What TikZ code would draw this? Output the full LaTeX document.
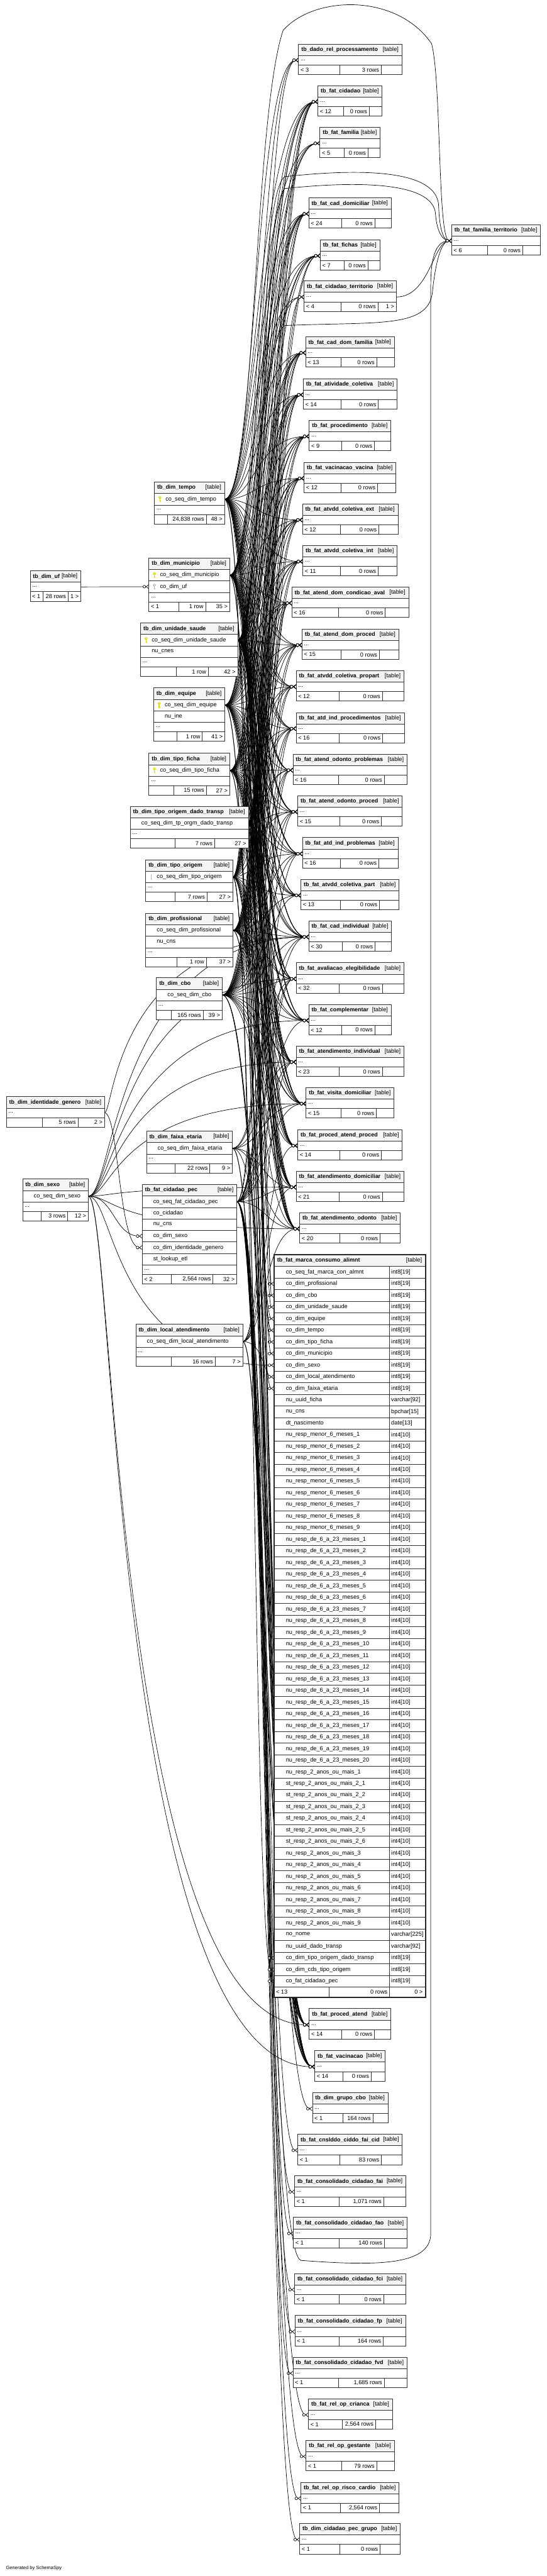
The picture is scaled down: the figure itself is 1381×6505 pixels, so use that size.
\documentclass[tikz,border=0pt]{standalone}
\usepackage{fontspec}
\setmainfont{Liberation Sans}
\usetikzlibrary{arrows.meta,backgrounds}

\definecolor{keyyel}{RGB}{222,222,0}
\definecolor{keygry}{RGB}{190,190,190}
\definecolor{hdrgry}{RGB}{244,244,244}

\newcommand\tf{\fontsize{14.67}{17}\selectfont}
\newcommand\tfb{\fontsize{14.2}{17}\selectfont\bfseries}

% collapsed table: id, title, left, right, top, parents, rows, children
\newcommand\facttab[8]{%
  \pgfmathsetmacro\tabw{#4-#3}%
  \pgfmathsetmacro\cwa{0.4*\tabw}%
  \pgfmathsetmacro\cwb{0.4*\tabw}%
  \pgfmathsetmacro\cwc{\tabw-\cwa-\cwb}%
  \node[ttl, minimum width=\tabw pt] (#1) at (#3,#5) {};
  \node[ttltxt, anchor=west] at ([xshift=7pt]#1.west) {#2};
  \node[lbl, anchor=east] at ([xshift=-8pt]#1.east) {[table]};
  \node[dotrow, minimum width=\tabw pt] (#1-d) at (#1.south west) {};
  \node[lbl, anchor=west] at ([xshift=5pt]#1-d.west) {...};
  \node[footrow, minimum width=\cwa pt] (#1-f1) at (#1-d.south west) {};
  \node[footrow, minimum width=\cwb pt] (#1-f2) at (#1-f1.north east) {};
  \node[footrow, minimum width=\cwc pt] (#1-f3) at (#1-f2.north east) {};
  \node[lbl, anchor=west] at ([xshift=5pt]#1-f1.west) {#6};
  \node[lbl, anchor=east] at ([xshift=-5pt]#1-f2.east) {#7};
  \node[lbl, anchor=east] at ([xshift=-5pt]#1-f3.east) {#8};
}
% dimension table pieces
\newcommand\dimhead[5]{%
  \pgfmathsetmacro\tabw{#4-#3}%
  \node[ttl, minimum width=\tabw pt] (#1) at (#3,#5) {};
  \node[ttltxt, anchor=west] at ([xshift=7pt]#1.west) {#2};
  \node[lbl, anchor=east] at ([xshift=-8pt]#1.east) {[table]};
}
\newcommand\dimcol[3]{%
  \node[colrow, minimum width=\tabw pt] (#1) at (#2.south west) {};
  \node[lbl, anchor=west] at ([xshift=28pt]#1.west) {#3};
}
\newcommand\dimfoot[7]{%
  \pgfmathsetmacro\cwc{\tabw-#6-#7}%
  \node[dotrow, minimum width=\tabw pt] (#1-d) at (#2.south west) {};
  \node[lbl, anchor=west] at ([xshift=5pt]#1-d.west) {...};
  \node[footrow, minimum width=#6pt] (#1-f1) at (#1-d.south west) {};
  \node[footrow, minimum width=#7pt] (#1-f2) at (#1-f1.north east) {};
  \node[footrow, minimum width=\cwc pt] (#1-f3) at (#1-f2.north east) {};
  \node[lbl, anchor=west] at ([xshift=5pt]#1-f1.west) {#3};
  \node[lbl, anchor=east] at ([xshift=-5pt]#1-f2.east) {#4};
  \node[lbl, anchor=east] at ([xshift=-5pt]#1-f3.east) {#5};
}
\newcommand\keyicon[2]{%
  \begin{scope}[shift={([xshift=14pt]#1.west)}]
    \fill[#2] (0,-4) circle (3.6pt);
    \fill[white] (0,-4.5) circle (1.3pt);
    \fill[#2] (-1.1,-1) rectangle (1.1,7);
    \fill[#2] (1.1,3) rectangle (3,4.5);
    \fill[#2] (1.1,5.5) rectangle (2.5,7);
  \end{scope}}
% row of the big table: index, column, type
\newcommand\bigrow[3]{%
  \pgfmathtruncatemacro\ri{#1}%
  \pgfmathsetmacro\ry{3198+(\ri-1)*29.35}%
  \node[colrow, minimum width=292pt, minimum height=29.35pt] (mca-\ri) at (692,\ry) {};
  \node[colrow, minimum width=91pt, minimum height=29.35pt] at (984,\ry) {};
  \node[lbl, anchor=west] at ([xshift=30pt]mca-\ri.west) {#2};
  \node[lbl, anchor=west] at ([xshift=4pt]mca-\ri.east) {#3};
}
% foreign key: source, bus, target
\newcommand\fk[3]{\draw[fk] (#1) .. controls (#1 -| #2) and (#3 -| #2) .. (#3);}

\def\corefacts{cdo,cdf,acl,pro,vva,ace,aci,adc,adp,acp,aip,aop,aod,aib,apt,cin,ael,cmp,ain,vis,pap,ado,aon,pat,vac}

\begin{document}
\catcode`\_=12
\begin{tikzpicture}[x=1pt, y=-1pt,
    cellbox/.style={draw=black!80, line width=0.9pt, fill=white, inner sep=0pt, outer sep=0pt, anchor=north west},
    ttl/.style={cellbox, fill=hdrgry, minimum height=29pt},
    colrow/.style={cellbox, minimum height=29pt},
    dotrow/.style={cellbox, minimum height=24pt},
    footrow/.style={cellbox, minimum height=24pt},
    lbl/.style={inner sep=0pt, font=\tf},
    ttltxt/.style={inner sep=0pt, font=\tfb},
    fk/.style={line width=1.1pt, -{Circle[length=8pt, fill=white] Straight Barb[reversed, length=6pt, width=10pt]}}
]
\useasboundingbox (0,0) rectangle (1381,6505);

% fact tables, right column
\facttab{dad}{tb_dado_rel_processamento}{754}{1015}{111}{< 3}{3 rows}{}
\facttab{cid}{tb_fat_cidadao}{803}{965}{216}{< 12}{0 rows}{}
\facttab{fam}{tb_fat_familia}{808}{960}{321}{< 5}{0 rows}{}
\facttab{cdo}{tb_fat_cad_domiciliar}{780}{988}{499}{< 24}{0 rows}{}
\facttab{fic}{tb_fat_fichas}{809}{959}{605}{< 7}{0 rows}{}
\facttab{ctr}{tb_fat_cidadao_territorio}{768}{1001}{709}{< 4}{0 rows}{1 >}
\facttab{ftr}{tb_fat_familia_territorio}{1141}{1365}{567}{< 6}{0 rows}{}
\facttab{cdf}{tb_fat_cad_dom_familia}{772}{996}{850}{< 13}{0 rows}{}
\facttab{acl}{tb_fat_atividade_coletiva}{766}{1003}{956}{< 14}{0 rows}{}
\facttab{pro}{tb_fat_procedimento}{781}{987}{1061}{< 9}{0 rows}{}
\facttab{vva}{tb_fat_vacinacao_vacina}{768}{1000}{1167}{< 12}{0 rows}{}
\facttab{ace}{tb_fat_atvdd_coletiva_ext}{764}{1005}{1272}{< 12}{0 rows}{}
\facttab{aci}{tb_fat_atvdd_coletiva_int}{765}{1003}{1377}{< 11}{0 rows}{}
\facttab{adc}{tb_fat_atend_dom_condicao_aval}{737}{1032}{1482}{< 16}{0 rows}{}
\facttab{adp}{tb_fat_atend_dom_proced}{763}{1007}{1588}{< 15}{0 rows}{}
\facttab{acp}{tb_fat_atvdd_coletiva_propart}{748}{1020}{1693}{< 12}{0 rows}{}
\facttab{aip}{tb_fat_atd_ind_procedimentos}{748}{1021}{1799}{< 16}{0 rows}{}
\facttab{aop}{tb_fat_atend_odonto_problemas}{740}{1028}{1904}{< 16}{0 rows}{}
\facttab{aod}{tb_fat_atend_odonto_proced}{752}{1016}{2009}{< 15}{0 rows}{}
\facttab{aib}{tb_fat_atd_ind_problemas}{764}{1005}{2115}{< 16}{0 rows}{}
\facttab{apt}{tb_fat_atvdd_coletiva_part}{760}{1008}{2220}{< 13}{0 rows}{}
\facttab{cin}{tb_fat_cad_individual}{780}{989}{2325}{< 30}{0 rows}{}
\facttab{ael}{tb_fat_avaliacao_elegibilidade}{748}{1020}{2431}{< 32}{0 rows}{}
\facttab{cmp}{tb_fat_complementar}{780}{988}{2536}{< 12}{0 rows}{}
\facttab{ain}{tb_fat_atendimento_individual}{748}{1020}{2641}{< 23}{0 rows}{}
\facttab{vis}{tb_fat_visita_domiciliar}{773}{995}{2746}{< 15}{0 rows}{}
\facttab{pap}{tb_fat_proced_atend_proced}{752}{1016}{2852}{< 14}{0 rows}{}
\facttab{ado}{tb_fat_atendimento_domiciliar}{748}{1020}{2957}{< 21}{0 rows}{}
\facttab{aon}{tb_fat_atendimento_odonto}{757}{1011}{3062}{< 20}{0 rows}{}
\facttab{pat}{tb_fat_proced_atend}{781}{987}{5072}{< 14}{0 rows}{}
\facttab{vac}{tb_fat_vacinacao}{795}{973}{5178}{< 14}{0 rows}{}
\facttab{gcb}{tb_dim_grupo_cbo}{789}{980}{5284}{< 1}{164 rows}{}
\facttab{cfc}{tb_fat_cnslddo_ciddo_fai_cid}{752}{1016}{5389}{< 1}{83 rows}{}
\facttab{cfa}{tb_fat_consolidado_cidadao_fai}{744}{1025}{5494}{< 1}{1,071 rows}{}
\facttab{cfo}{tb_fat_consolidado_cidadao_fao}{741}{1028}{5599}{< 1}{140 rows}{}
\facttab{cci}{tb_fat_consolidado_cidadao_fci}{744}{1025}{5741}{< 1}{0 rows}{}
\facttab{cfp}{tb_fat_consolidado_cidadao_fp}{745}{1024}{5847}{< 1}{164 rows}{}
\facttab{cfv}{tb_fat_consolidado_cidadao_fvd}{740}{1028}{5952}{< 1}{1,685 rows}{}
\facttab{roc}{tb_fat_rel_op_crianca}{779}{991}{6057}{< 1}{2,564 rows}{}
\facttab{rog}{tb_fat_rel_op_gestante}{773}{996}{6162}{< 1}{79 rows}{}
\facttab{ror}{tb_fat_rel_op_risco_cardio}{760}{1008}{6268}{< 1}{2,564 rows}{}
\facttab{cpg}{tb_dim_cidadao_pec_grupo}{757}{1011}{6372}{< 1}{0 rows}{}

% dimension tables, left
\dimhead{tempo}{tb_dim_tempo}{390}{567}{1217}
\dimcol{tempo-k}{tempo}{co_seq_dim_tempo}
\dimfoot{tempo}{tempo-k}{}{24,838 rows}{48 >}{33}{98}
\keyicon{tempo-k}{keyyel}

\dimhead{uf}{tb_dim_uf}{76}{204}{1441}
\dimfoot{uf}{uf}{< 1}{28 rows}{1 >}{33}{63}

\dimhead{mun}{tb_dim_municipio}{376}{580}{1409}
\dimcol{mun-k}{mun}{co_seq_dim_municipio}
\dimcol{mun-uf}{mun-k}{co_dim_uf}
\dimfoot{mun}{mun-uf}{< 1}{1 row}{35 >}{75}{68}
\keyicon{mun-k}{keyyel}
\keyicon{mun-uf}{keygry}

\dimhead{uni}{tb_dim_unidade_saude}{355}{600}{1573}
\dimcol{uni-k}{uni}{co_seq_dim_unidade_saude}
\dimcol{uni-cn}{uni-k}{nu_cnes}
\dimfoot{uni}{uni-cn}{}{1 row}{42 >}{90}{81}
\keyicon{uni-k}{keyyel}

\dimhead{equ}{tb_dim_equipe}{388}{568}{1737}
\dimcol{equ-k}{equ}{co_seq_dim_equipe}
\dimcol{equ-in}{equ-k}{nu_ine}
\dimfoot{equ}{equ-in}{}{1 row}{41 >}{58}{65}
\keyicon{equ-k}{keyyel}

\dimhead{tfi}{tb_dim_tipo_ficha}{376}{580}{1902}
\dimcol{tfi-k}{tfi}{co_seq_dim_tipo_ficha}
\dimfoot{tfi}{tfi-k}{}{15 rows}{27 >}{62}{83}
\keyicon{tfi-k}{keyyel}

\dimhead{tod}{tb_dim_tipo_origem_dado_transp}{329}{627}{2036}
\dimcol{tod-k}{tod}{co_seq_dim_tp_orgm_dado_transp}
\dimfoot{tod}{tod-k}{}{7 rows}{27 >}{113}{100}

\dimhead{tor}{tb_dim_tipo_origem}{368}{588}{2171}
\dimcol{tor-k}{tor}{co_seq_dim_tipo_origem}
\dimfoot{tor}{tor-k}{}{7 rows}{27 >}{74}{81}
\draw[black!30, line width=0.8pt] ([xshift=14pt,yshift=7pt]tor-k.west) -- ([xshift=14pt,yshift=-7pt]tor-k.west);

\dimhead{prf}{tb_dim_profissional}{368}{588}{2306}
\dimcol{prf-k}{prf}{co_seq_dim_profissional}
\dimcol{prf-cn}{prf-k}{nu_cns}
\dimfoot{prf}{prf-cn}{}{1 row}{37 >}{78}{75}

\dimhead{cbo}{tb_dim_cbo}{395}{561}{2469}
\dimcol{cbo-k}{cbo}{co_seq_dim_cbo}
\dimfoot{cbo}{cbo-k}{}{165 rows}{39 >}{38}{80}

\dimhead{idg}{tb_dim_identidade_genero}{16}{264}{2769}
\dimfoot{idg}{idg}{}{5 rows}{2 >}{91}{90}

\dimhead{fx}{tb_dim_faixa_etaria}{370}{587}{2856}
\dimcol{fx-k}{fx}{co_seq_dim_faixa_etaria}
\dimfoot{fx}{fx-k}{}{22 rows}{9 >}{72}{88}

\dimhead{sexo}{tb_dim_sexo}{57}{223}{2977}
\dimcol{sexo-k}{sexo}{co_seq_dim_sexo}
\dimfoot{sexo}{sexo-k}{}{3 rows}{12 >}{46}{68}

\dimhead{pec}{tb_fat_cidadao_pec}{359}{598}{2991}
\dimcol{pec-k}{pec}{co_seq_fat_cidadao_pec}
\dimcol{pec-ci}{pec-k}{co_cidadao}
\dimcol{pec-cn}{pec-ci}{nu_cns}
\dimcol{pec-sx}{pec-cn}{co_dim_sexo}
\dimcol{pec-ig}{pec-sx}{co_dim_identidade_genero}
\dimcol{pec-st}{pec-ig}{st_lookup_etl}
\dimfoot{pec}{pec-st}{< 2}{2,564 rows}{32 >}{74}{105}

\dimhead{loc}{tb_dim_local_atendimento}{343}{613}{3344}
\dimcol{loc-k}{loc}{co_seq_dim_local_atendimento}
\dimfoot{loc}{loc-k}{}{16 rows}{7 >}{90}{110}

% the focal table
\node[ttl, minimum width=383pt, minimum height=30pt] (mca) at (692,3168) {};
\node[ttltxt, anchor=west] at ([xshift=8pt]mca.west) {tb_fat_marca_consumo_alimnt};
\node[lbl, anchor=east] at ([xshift=-9pt]mca.east) {[table]};
\foreach \n/\ty [count=\i] in {co_seq_fat_marca_con_almnt/int8[19], co_dim_profissional/int8[19],
    co_dim_cbo/int8[19], co_dim_unidade_saude/int8[19], co_dim_equipe/int8[19], co_dim_tempo/int8[19],
    co_dim_tipo_ficha/int8[19], co_dim_municipio/int8[19], co_dim_sexo/int8[19],
    co_dim_local_atendimento/int8[19], co_dim_faixa_etaria/int8[19], nu_uuid_ficha/varchar[92],
    nu_cns/bpchar[15], dt_nascimento/date[13]}
  {\bigrow{\i}{\n}{\ty}}
\foreach \k in {1,...,9} {\bigrow{14+\k}{nu_resp_menor_6_meses_\k}{int4[10]}}
\foreach \k in {1,...,20} {\bigrow{23+\k}{nu_resp_de_6_a_23_meses_\k}{int4[10]}}
\bigrow{44}{nu_resp_2_anos_ou_mais_1}{int4[10]}
\foreach \k in {1,...,6} {\bigrow{44+\k}{st_resp_2_anos_ou_mais_2_\k}{int4[10]}}
\foreach \k in {3,...,9} {\bigrow{48+\k}{nu_resp_2_anos_ou_mais_\k}{int4[10]}}
\foreach \n/\ty [count=\i from 58] in {no_nome/varchar[225], nu_uuid_dado_transp/varchar[92],
    co_dim_tipo_origem_dado_transp/int8[19], co_dim_cds_tipo_origem/int8[19], co_fat_cidadao_pec/int8[19]}
  {\bigrow{\i}{\n}{\ty}}
\node[footrow, minimum width=139pt, minimum height=26pt] (mca-f1) at (692,5017.7) {};
\node[footrow, minimum width=153pt, minimum height=26pt] (mca-f2) at (mca-f1.north east) {};
\node[footrow, minimum width=91pt, minimum height=26pt] (mca-f3) at (mca-f2.north east) {};
\node[lbl, anchor=west] at ([xshift=5pt]mca-f1.west) {< 13};
\node[lbl, anchor=east] at ([xshift=-5pt]mca-f2.east) {0 rows};
\node[lbl, anchor=east] at ([xshift=-7pt]mca-f3.east) {0 >};
\draw[line width=3pt, black!85] (mca.north west) rectangle (mca-f3.south east);

\node[anchor=west, inner sep=0pt, font=\fontsize{12}{14}\selectfont] (gen) at (15,6485) {Generated by SchemaSpy};

% buses where the connectors run down
\coordinate (bxtor) at (640,0);   \coordinate (bxtempo) at (645,0);
\coordinate (bxequ) at (650,0);   \coordinate (bxmun) at (654,0);
\coordinate (bxtfi) at (658,0);   \coordinate (bxfx) at (661,0);
\coordinate (bxuni) at (664,0);   \coordinate (bxloc) at (667,0);
\coordinate (bxtod) at (670,0);   \coordinate (bxpec) at (673,0);
\coordinate (bxprf) at (676,0);   \coordinate (bxcbo) at (679,0);
\coordinate (bxsexo) at (288,0);  \coordinate (bxidg) at (300,0);

\begin{scope}[on background layer]
\foreach \s in {tempo,mun,uni,equ,tfi,tod,tor,prf,cbo}
  \foreach \t in \corefacts {\fk{\s-k.east}{bx\s}{\t-d.west}}
\foreach \s/\t in {tempo/cid, tempo/fam, tempo/fic, tempo/ctr, tempo/dad,
    mun/cid, mun/fam, mun/fic, mun/ctr, mun/dad, uni/cid, uni/fam, uni/fic, uni/dad,
    equ/cid, equ/fam, equ/fic, prf/cid, prf/fic, cbo/cid, cbo/fic, cbo/gcb,
    tfi/fic, tod/cid, tor/cid}
  {\fk{\s-k.east}{bx\s}{\t-d.west}}
\foreach \t in {cin,ael,ain,aon,vis,ado,vac,pat} {\fk{fx-k.east}{bxfx}{\t-d.west}}
\foreach \t in {ain,aon,ado,pat,vac,ael,pap} {\fk{loc-k.east}{bxloc}{\t-d.west}}
\foreach \t in {cin,ael,cmp,ain,vis,ado,aon,pat,vac} {\fk{sexo-k.east}{bxsexo}{\t-d.west}}
\foreach \t in {cid,ctr,cin,ael,ain,aon,vis,ado,vac,pat,cmp,aip,aib,aop,aod,
    cfc,cfa,cfo,cci,cfp,cfv,roc,rog,ror,cpg} {\fk{pec-k.east}{bxpec}{\t-d.west}}
\foreach \s/\r in {prf/2, cbo/3, uni/4, equ/5, tempo/6, tfi/7, mun/8, sexo/9, loc/10,
    fx/11, tod/60, tor/61, pec/62}
  {\fk{\s-k.east}{bx\s}{mca-\r.west}}
\fk{sexo-k.east}{bxsexo}{pec-sx.west}
\fk{idg-d.east}{bxidg}{pec-ig.west}
\fk{idg-d.east}{bxsexo}{cin-d.west}
\draw[fk] (uf-d.east) -- (mun-uf.west);
% long connectors into tb_fat_familia_territorio
\draw[fk] (tempo-k.east) .. controls (645,1262) and (640,300) .. (715,77)
  .. controls (790,-10) and (1000,-20) .. (1090,110)
  .. controls (1115,200) and (1105,608) .. (ftr-d.west);
\draw[fk] (mun-k.east) .. controls (654,1453) and (650,480) .. (720,446)
  .. controls (960,420) and (1105,440) .. (1108,520)
  .. controls (1110,580) and (1120,608) .. (ftr-d.west);
\draw[fk] (uni-k.east) .. controls (664,1617) and (660,510) .. (720,476)
  .. controls (950,452) and (1095,470) .. (1100,540)
  .. controls (1104,590) and (1120,608) .. (ftr-d.west);
\draw[fk] (equ-k.east) .. controls (650,1781) and (648,850) .. (720,822)
  .. controls (950,812) and (1080,830) .. (1092,740)
  .. controls (1100,660) and (1115,608) .. (ftr-d.west);
\draw[fk] (pec-k.east) .. controls (673,3035) and (668,5680) .. (760,5708)
  .. controls (950,5722) and (1088,5722) .. (1088,5640) -- (1088,720)
  .. controls (1088,640) and (1105,608) .. (ftr-d.west);
\draw[fk] (ctr-d.east) .. controls (1085,750) and (1095,608) .. (ftr-d.west);
\end{scope}
\end{tikzpicture}
\end{document}
